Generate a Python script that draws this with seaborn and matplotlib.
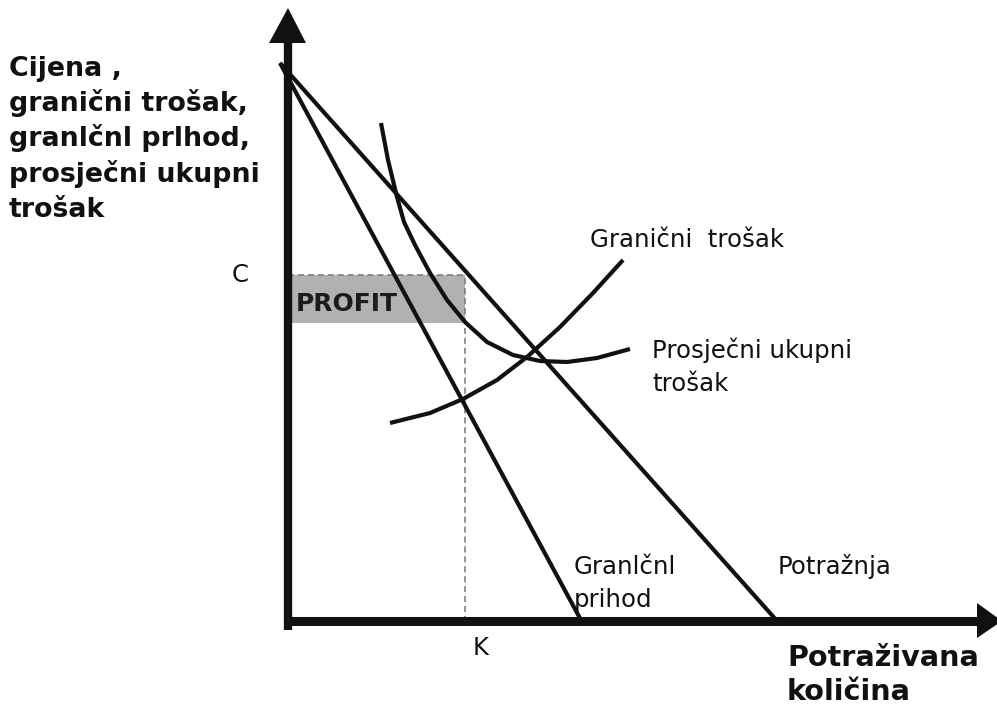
import matplotlib
matplotlib.use("Agg")
import matplotlib.pyplot as plt
import seaborn as sns
import pandas as pd

sns.set_theme(style="white")
plt.rcParams['font.family'] = ['DejaVu Sans']

# ---- data (quantity, price units; origin at the axes corner) ----
demand_q = [-8, 490]
demand_p = [559, 0]
mr_q = [-8, 294]
mr_p = [559, 0]
mc_q = [102, 142, 175, 209, 239, 272, 305, 335]
mc_p = [199, 209, 223, 242, 265, 295, 329, 362]
atc_q = [93, 100, 109, 116, 127, 142, 159, 177, 199, 225, 252, 279, 309, 342]
atc_p = [499, 462, 425, 400, 377, 349, 322, 300, 280, 267, 261, 260, 264, 273]
K = 177          # profit-maximising quantity
C = 347          # price at K
atc_at_K = 299   # average total cost at K

W, H = 997, 708
fig = plt.figure(figsize=(W / 100, H / 100), dpi=100)
ax = fig.add_axes([0, 0, 1, 1])
ax.set_xlim(-288, 709)
ax.set_ylim(-86, 622)
ax.axis('off')

# profit rectangle
ax.fill_between([0, K], [atc_at_K, atc_at_K], [C, C], color='#b1b1b4', lw=0, zorder=1)
ax.plot([0, K], [C, C], color='#777777', lw=1.1, ls=(0, (4, 2.5)), zorder=2)
ax.plot([K, K], [0, C], color='#777777', lw=1.1, ls=(0, (4, 2.5)), zorder=2)

lw = 3.0
df_d = pd.DataFrame({'q': demand_q, 'p': demand_p})
df_mr = pd.DataFrame({'q': mr_q, 'p': mr_p})
df_mc = pd.DataFrame({'q': mc_q, 'p': mc_p})
df_atc = pd.DataFrame({'q': atc_q, 'p': atc_p})
for d in (df_d, df_mr, df_mc, df_atc):
    sns.lineplot(data=d, x='q', y='p', sort=False, ax=ax, color='#111111',
                 lw=lw, estimator=None, zorder=3,
                 solid_joinstyle='round', solid_capstyle='butt')

# axes with arrows
ax.plot([0, 0], [-8, 580], color='#111111', lw=6, solid_capstyle='butt', zorder=4)
ax.plot([-4, 690], [1, 1], color='#111111', lw=6.5, solid_capstyle='butt', zorder=4)
ax.fill([0, -19, 18], [614, 579, 579], color='#111111', zorder=5, lw=0)
ax.fill([714, 689, 689], [1, 19, -16], color='#111111', zorder=5, lw=0)

ax.set_xlabel('')
ax.set_ylabel('')

# text
tc = '#111111'
left_lines = ['Cijena ,', 'granični trošak,', 'granlčnl prlhod,',
              'prosječni ukupni', 'trošak']
for i, t in enumerate(left_lines):
    ax.text(-279, 622 - 76 - i * 35.2, t, fontsize=19.3, fontweight='bold',
            color=tc, va='baseline', ha='left')

fs = 17.6
ax.text(-56, 622 - 282, 'C', fontsize=fs, color=tc, va='baseline', ha='left')
ax.text(185, 622 - 655, 'K', fontsize=fs, color=tc, va='baseline', ha='left')
ax.text(8, 622 - 311, 'PROFIT', fontsize=18, fontweight='bold', color='#1c1c1c',
        va='baseline', ha='left')
ax.text(302, 622 - 247, 'Granični  trošak', fontsize=fs, color=tc, va='baseline', ha='left')
ax.text(364, 622 - 358, 'Prosječni ukupni', fontsize=fs, color=tc, va='baseline', ha='left')
ax.text(364, 622 - 391, 'trošak', fontsize=fs, color=tc, va='baseline', ha='left')
ax.text(286, 622 - 574, 'Granlčnl', fontsize=fs, color=tc, va='baseline', ha='left')
ax.text(286, 622 - 607, 'prihod', fontsize=fs, color=tc, va='baseline', ha='left')
ax.text(490, 622 - 574, 'Potražnja', fontsize=fs, color=tc, va='baseline', ha='left')
ax.text(499, 622 - 666, 'Potraživana', fontsize=20.6, fontweight='bold', color=tc,
        va='baseline', ha='left')
ax.text(499, 622 - 700, 'količina', fontsize=20.6, fontweight='bold', color=tc,
        va='baseline', ha='left')

fig.savefig('out.png', dpi=100)
